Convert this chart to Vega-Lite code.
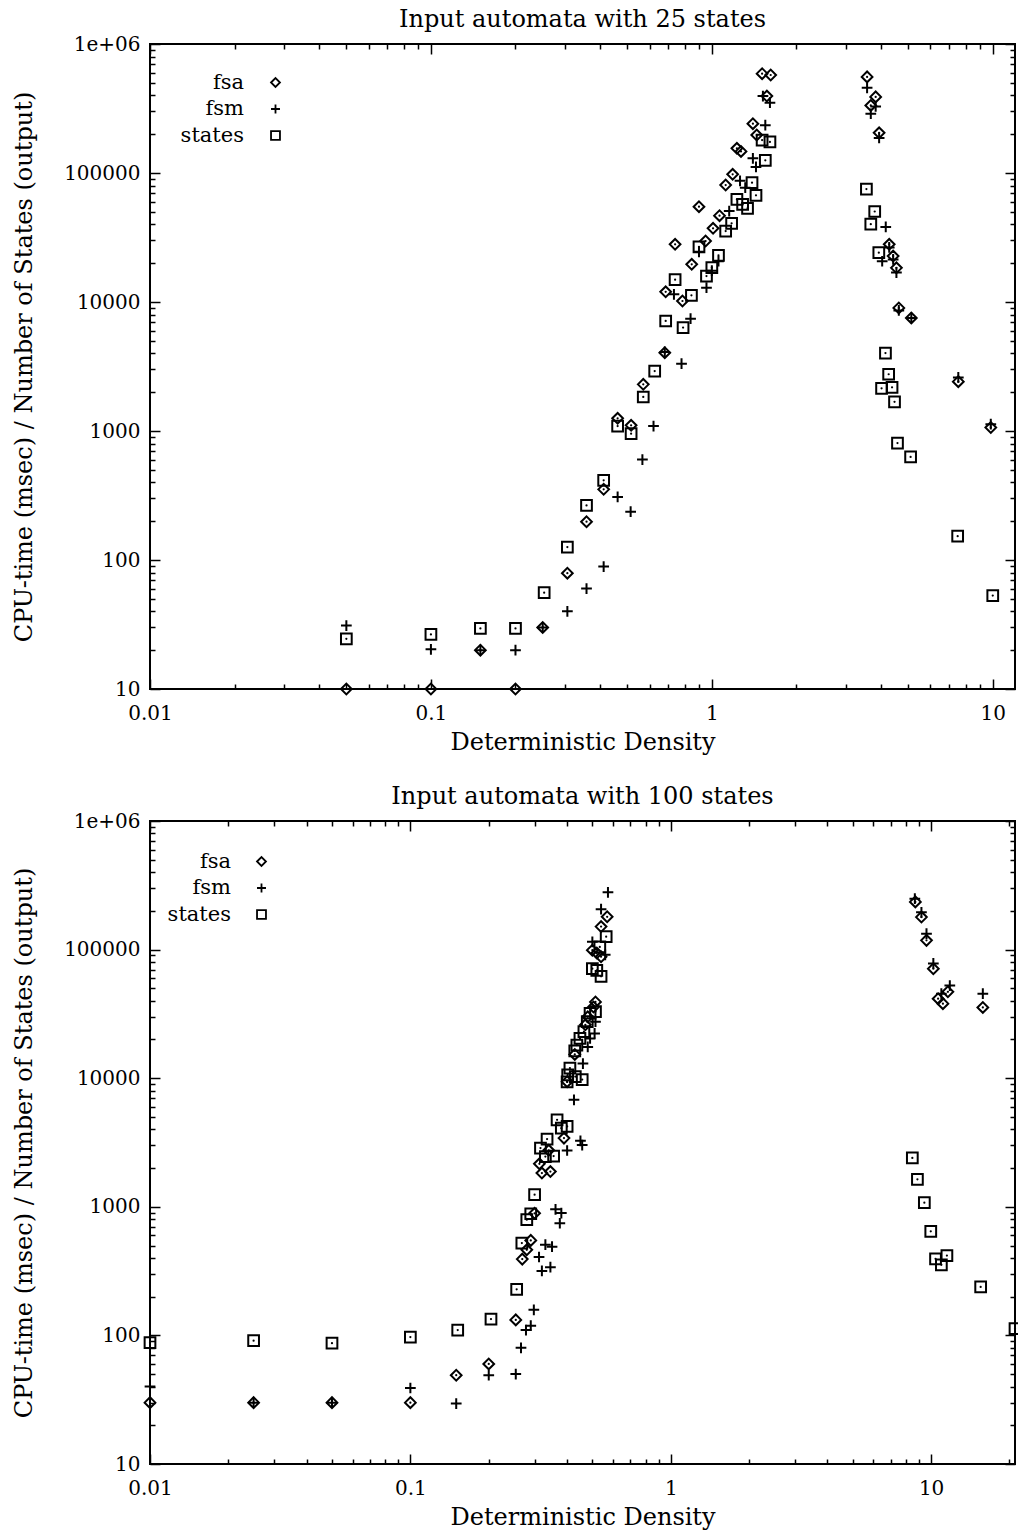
{
  "$schema": "https://vega.github.io/schema/vega-lite/v6.json",
  "background": "white",
  "padding": {"left": 11, "top": 7, "right": 3, "bottom": 0},
  "spacing": 29,
  "resolve": {"scale": {"shape": "independent"}, "legend": {"shape": "independent"}},
  "config": {
    "view": {"stroke": "black", "strokeWidth": 2},
    "font": "DejaVu Serif",
    "axis": {"domain": false, "grid": false, "labelFont": "DejaVu Serif", "labelFontSize": 20, "labelColor": "black", "titleFont": "DejaVu Serif", "titleFontSize": 24, "titleFontWeight": "normal", "titleColor": "black", "tickColor": "black", "tickWidth": 1.5, "labelOverlap": false, "labelFlush": false},
    "title": {"font": "DejaVu Serif", "fontSize": 24, "fontWeight": "normal", "color": "black", "offset": 2},
    "legend": {"labelFont": "DejaVu Serif", "labelFontSize": 21, "labelColor": "black"}
  },
  "datasets": {
    "top": [
      {"series":"fsa","x":0.05,"y":10},{"series":"fsa","x":0.1,"y":10},{"series":"fsa","x":0.15,"y":20},{"series":"fsa","x":0.2,"y":10},{"series":"fsa","x":0.25,"y":30},{"series":"fsa","x":0.306,"y":79},{"series":"fsa","x":0.358,"y":198},{"series":"fsa","x":0.412,"y":353},{"series":"fsa","x":0.462,"y":1254},{"series":"fsa","x":0.516,"y":1107},{"series":"fsa","x":0.57,"y":2300},{"series":"fsa","x":0.68,"y":4045},{"series":"fsa","x":0.685,"y":12000},{"series":"fsa","x":0.786,"y":10180},{"series":"fsa","x":0.74,"y":28000},{"series":"fsa","x":0.848,"y":19600},{"series":"fsa","x":0.95,"y":29700},{"series":"fsa","x":0.9,"y":54800},{"series":"fsa","x":1.01,"y":37260},{"series":"fsa","x":1.065,"y":46700},{"series":"fsa","x":1.12,"y":80700},{"series":"fsa","x":1.186,"y":97700},{"series":"fsa","x":1.228,"y":155400},{"series":"fsa","x":1.27,"y":147000},{"series":"fsa","x":1.445,"y":197000},{"series":"fsa","x":1.4,"y":241000},{"series":"fsa","x":1.57,"y":395000},{"series":"fsa","x":1.51,"y":589000},{"series":"fsa","x":1.62,"y":575000},{"series":"fsa","x":3.57,"y":556000},{"series":"fsa","x":3.83,"y":389000},{"series":"fsa","x":3.68,"y":334000},{"series":"fsa","x":3.94,"y":205000},{"series":"fsa","x":4.28,"y":28000},{"series":"fsa","x":4.42,"y":22700},{"series":"fsa","x":4.54,"y":18400},{"series":"fsa","x":4.63,"y":9000},{"series":"fsa","x":5.13,"y":7520},{"series":"fsa","x":7.54,"y":2413},{"series":"fsa","x":9.84,"y":1065},
      {"series":"fsm","x":0.05,"y":31},{"series":"fsm","x":0.1,"y":20.3},{"series":"fsm","x":0.15,"y":20},{"series":"fsm","x":0.2,"y":20},{"series":"fsm","x":0.25,"y":30},{"series":"fsm","x":0.306,"y":40},{"series":"fsm","x":0.358,"y":60},{"series":"fsm","x":0.412,"y":89},{"series":"fsm","x":0.462,"y":308},{"series":"fsm","x":0.514,"y":237},{"series":"fsm","x":0.566,"y":600},{"series":"fsm","x":0.62,"y":1093},{"series":"fsm","x":0.68,"y":4100},{"series":"fsm","x":0.78,"y":3325},{"series":"fsm","x":0.84,"y":7430},{"series":"fsm","x":0.733,"y":11480},{"series":"fsm","x":0.957,"y":12900},{"series":"fsm","x":1.0,"y":17500},{"series":"fsm","x":1.056,"y":20700},{"series":"fsm","x":0.9,"y":24500},{"series":"fsm","x":1.153,"y":50700},{"series":"fsm","x":1.26,"y":87000},{"series":"fsm","x":1.315,"y":76900},{"series":"fsm","x":1.436,"y":111400},{"series":"fsm","x":1.4,"y":130000},{"series":"fsm","x":1.55,"y":235000},{"series":"fsm","x":1.52,"y":395000},{"series":"fsm","x":1.61,"y":351000},{"series":"fsm","x":3.57,"y":457000},{"series":"fsm","x":3.83,"y":328000},{"series":"fsm","x":3.68,"y":288000},{"series":"fsm","x":3.94,"y":187000},{"series":"fsm","x":4.16,"y":38200},{"series":"fsm","x":4.04,"y":20700},{"series":"fsm","x":4.28,"y":26500},{"series":"fsm","x":4.42,"y":21400},{"series":"fsm","x":4.54,"y":16900},{"series":"fsm","x":4.63,"y":8600},{"series":"fsm","x":5.13,"y":7520},{"series":"fsm","x":7.54,"y":2600},{"series":"fsm","x":9.84,"y":1130},
      {"series":"states","x":0.05,"y":24.5},{"series":"states","x":0.1,"y":26.5},{"series":"states","x":0.15,"y":29.5},{"series":"states","x":0.2,"y":29.5},{"series":"states","x":0.253,"y":55.8},{"series":"states","x":0.306,"y":126},{"series":"states","x":0.358,"y":265},{"series":"states","x":0.412,"y":415},{"series":"states","x":0.462,"y":1093},{"series":"states","x":0.516,"y":953},{"series":"states","x":0.57,"y":1835},{"series":"states","x":0.626,"y":2917},{"series":"states","x":0.685,"y":7125},{"series":"states","x":0.79,"y":6330},{"series":"states","x":0.846,"y":11270},{"series":"states","x":0.74,"y":14900},{"series":"states","x":0.957,"y":15900},{"series":"states","x":1.0,"y":18460},{"series":"states","x":1.056,"y":23000},{"series":"states","x":0.9,"y":26800},{"series":"states","x":1.12,"y":35500},{"series":"states","x":1.176,"y":40700},{"series":"states","x":1.228,"y":62500},{"series":"states","x":1.287,"y":57200},{"series":"states","x":1.34,"y":53200},{"series":"states","x":1.436,"y":67100},{"series":"states","x":1.39,"y":84100},{"series":"states","x":1.55,"y":125400},{"series":"states","x":1.51,"y":180000},{"series":"states","x":1.61,"y":174000},{"series":"states","x":3.55,"y":75000},{"series":"states","x":3.8,"y":50300},{"series":"states","x":3.68,"y":40100},{"series":"states","x":3.93,"y":24100},{"series":"states","x":4.15,"y":4020},{"series":"states","x":4.26,"y":2754},{"series":"states","x":4.02,"y":2143},{"series":"states","x":4.38,"y":2180},{"series":"states","x":4.47,"y":1685},{"series":"states","x":4.58,"y":807},{"series":"states","x":5.1,"y":630},{"series":"states","x":7.5,"y":153},{"series":"states","x":10,"y":53}
    ],
    "bottom": [
      {"series":"fsa","x":0.01,"y":30},{"series":"fsa","x":0.025,"y":30},{"series":"fsa","x":0.05,"y":30},{"series":"fsa","x":0.1,"y":30},{"series":"fsa","x":0.15,"y":49},{"series":"fsa","x":0.2,"y":60},{"series":"fsa","x":0.254,"y":132},{"series":"fsa","x":0.269,"y":392},{"series":"fsa","x":0.28,"y":463},{"series":"fsa","x":0.29,"y":548},{"series":"fsa","x":0.3,"y":890},{"series":"fsa","x":0.313,"y":2160},{"series":"fsa","x":0.32,"y":1830},{"series":"fsa","x":0.345,"y":1880},{"series":"fsa","x":0.34,"y":2750},{"series":"fsa","x":0.389,"y":3420},{"series":"fsa","x":0.4,"y":9400},{"series":"fsa","x":0.428,"y":15300},{"series":"fsa","x":0.47,"y":26000},{"series":"fsa","x":0.48,"y":30000},{"series":"fsa","x":0.505,"y":35800},{"series":"fsa","x":0.514,"y":39200},{"series":"fsa","x":0.5,"y":99000},{"series":"fsa","x":0.52,"y":94000},{"series":"fsa","x":0.54,"y":88000},{"series":"fsa","x":0.54,"y":151000},{"series":"fsa","x":0.57,"y":180000},{"series":"fsa","x":8.7,"y":235000},{"series":"fsa","x":9.18,"y":179000},{"series":"fsa","x":9.6,"y":118000},{"series":"fsa","x":10.2,"y":71000},{"series":"fsa","x":10.64,"y":41500},{"series":"fsa","x":11.1,"y":38000},{"series":"fsa","x":11.6,"y":47000},{"series":"fsa","x":15.8,"y":35500},
      {"series":"fsm","x":0.01,"y":40},{"series":"fsm","x":0.025,"y":30},{"series":"fsm","x":0.05,"y":30},{"series":"fsm","x":0.1,"y":39},{"series":"fsm","x":0.15,"y":29.5},{"series":"fsm","x":0.2,"y":49},{"series":"fsm","x":0.254,"y":50},{"series":"fsm","x":0.266,"y":80},{"series":"fsm","x":0.278,"y":110},{"series":"fsm","x":0.29,"y":119},{"series":"fsm","x":0.298,"y":158},{"series":"fsm","x":0.312,"y":407},{"series":"fsm","x":0.32,"y":317},{"series":"fsm","x":0.33,"y":507},{"series":"fsm","x":0.345,"y":339},{"series":"fsm","x":0.35,"y":490},{"series":"fsm","x":0.361,"y":955},{"series":"fsm","x":0.375,"y":745},{"series":"fsm","x":0.38,"y":893},{"series":"fsm","x":0.4,"y":2740},{"series":"fsm","x":0.45,"y":3260},{"series":"fsm","x":0.457,"y":3020},{"series":"fsm","x":0.425,"y":6790},{"series":"fsm","x":0.46,"y":13000},{"series":"fsm","x":0.48,"y":17500},{"series":"fsm","x":0.49,"y":20400},{"series":"fsm","x":0.51,"y":22300},{"series":"fsm","x":0.514,"y":27500},{"series":"fsm","x":0.5,"y":115000},{"series":"fsm","x":0.56,"y":91000},{"series":"fsm","x":0.54,"y":206000},{"series":"fsm","x":0.574,"y":279000},{"series":"fsm","x":8.66,"y":249000},{"series":"fsm","x":9.18,"y":195000},{"series":"fsm","x":9.6,"y":133000},{"series":"fsm","x":10.2,"y":78000},{"series":"fsm","x":10.95,"y":45400},{"series":"fsm","x":11.8,"y":52500},{"series":"fsm","x":15.8,"y":45400},
      {"series":"states","x":0.01,"y":88},{"series":"states","x":0.025,"y":91},{"series":"states","x":0.05,"y":87},{"series":"states","x":0.1,"y":97},{"series":"states","x":0.152,"y":110},{"series":"states","x":0.204,"y":134},{"series":"states","x":0.256,"y":228},{"series":"states","x":0.268,"y":522},{"series":"states","x":0.28,"y":794},{"series":"states","x":0.29,"y":883},{"series":"states","x":0.3,"y":1242},{"series":"states","x":0.316,"y":2860},{"series":"states","x":0.335,"y":3360},{"series":"states","x":0.33,"y":2460},{"series":"states","x":0.355,"y":2480},{"series":"states","x":0.366,"y":4750},{"series":"states","x":0.38,"y":4090},{"series":"states","x":0.4,"y":4220},{"series":"states","x":0.4,"y":9350},{"series":"states","x":0.457,"y":9750},{"series":"states","x":0.41,"y":12000},{"series":"states","x":0.402,"y":10600},{"series":"states","x":0.43,"y":10300},{"series":"states","x":0.428,"y":16300},{"series":"states","x":0.436,"y":18100},{"series":"states","x":0.448,"y":20400},{"series":"states","x":0.464,"y":23000},{"series":"states","x":0.478,"y":27500},{"series":"states","x":0.49,"y":32000},{"series":"states","x":0.514,"y":33000},{"series":"states","x":0.534,"y":105000},{"series":"states","x":0.565,"y":126000},{"series":"states","x":0.5,"y":71000},{"series":"states","x":0.52,"y":69000},{"series":"states","x":0.54,"y":62000},{"series":"states","x":8.47,"y":2400},{"series":"states","x":8.86,"y":1637},{"series":"states","x":9.42,"y":1077},{"series":"states","x":9.97,"y":645},{"series":"states","x":10.4,"y":394},{"series":"states","x":10.95,"y":354},{"series":"states","x":11.5,"y":418},{"series":"states","x":15.5,"y":238},{"series":"states","x":21,"y":113}
    ]
  },
  "vconcat": [
    {
      "width": 865, "height": 645,
      "title": {"text": "Input automata with 25 states"},
      "data": {"name": "top"},
      "layer": [
        {
          "mark": {"type": "point", "filled": false, "color": "black", "strokeWidth": 2, "size": 115, "opacity": 1},
          "encoding": {
            "x": {"field": "x", "type": "quantitative", "scale": {"type": "log", "domain": [0.01, 12], "nice": false},
              "axis": {"title": "Deterministic Density", "values": [0.01,0.02,0.03,0.04,0.05,0.06,0.07,0.08,0.09,0.1,0.2,0.3,0.4,0.5,0.6,0.7,0.8,0.9,1,2,3,4,5,6,7,8,9,10],
                "labelExpr": "abs(log(datum.value)/LN10 - round(log(datum.value)/LN10)) < 0.001 ? format(datum.value, '~g') : ''",
                "tickSize": {"condition": {"test": "abs(log(datum.value)/LN10 - round(log(datum.value)/LN10)) < 0.001", "value": -10}, "value": -5},
                "labelPadding": 24, "titlePadding": 2}},
            "y": {"field": "y", "type": "quantitative", "scale": {"type": "log", "domain": [10, 1000000], "nice": false},
              "axis": {"title": "CPU-time (msec) / Number of States (output)", "values": [10,20,30,40,50,60,70,80,90,100,200,300,400,500,600,700,800,900,1000,2000,3000,4000,5000,6000,7000,8000,9000,10000,20000,30000,40000,50000,60000,70000,80000,90000,100000,200000,300000,400000,500000,600000,700000,800000,900000,1000000],
                "labelExpr": "abs(log(datum.value)/LN10 - round(log(datum.value)/LN10)) < 0.001 ? (datum.value >= 999999 ? '1e+06' : format(datum.value, 'd')) : ''",
                "tickSize": {"condition": {"test": "abs(log(datum.value)/LN10 - round(log(datum.value)/LN10)) < 0.001", "value": -10}, "value": -5},
                "labelPadding": 20, "titlePadding": 27}},
            "shape": {"field": "series", "type": "nominal", "scale": {"domain": ["fsa", "fsm", "states"], "range": ["diamond", "M-1,0L1,0M0,-1L0,1", "square"]},
              "legend": {"title": null, "orient": "none", "legendX": 115, "legendY": 28, "labelAlign": "right", "labelOffset": -42, "padding": 0, "rowPadding": 4.5, "symbolStrokeColor": "black", "symbolStrokeWidth": 1.8, "symbolSize": 80}}
          }
        },
        {
          "transform": [{"filter": "datum.series != 'fsm'"}],
          "mark": {"type": "point", "shape": "circle", "filled": true, "color": "black", "size": 5, "opacity": 1},
          "encoding": {
            "x": {"field": "x", "type": "quantitative",
              "axis": {"orient": "top", "title": null, "labels": false, "values": [0.01,0.02,0.03,0.04,0.05,0.06,0.07,0.08,0.09,0.1,0.2,0.3,0.4,0.5,0.6,0.7,0.8,0.9,1,2,3,4,5,6,7,8,9,10],
                "tickSize": {"condition": {"test": "abs(log(datum.value)/LN10 - round(log(datum.value)/LN10)) < 0.001", "value": -10}, "value": -5}}},
            "y": {"field": "y", "type": "quantitative",
              "axis": {"orient": "right", "title": null, "labels": false, "values": [10,20,30,40,50,60,70,80,90,100,200,300,400,500,600,700,800,900,1000,2000,3000,4000,5000,6000,7000,8000,9000,10000,20000,30000,40000,50000,60000,70000,80000,90000,100000,200000,300000,400000,500000,600000,700000,800000,900000,1000000],
                "tickSize": {"condition": {"test": "abs(log(datum.value)/LN10 - round(log(datum.value)/LN10)) < 0.001", "value": -10}, "value": -5}}}
          }
        }
      ],
      "resolve": {"axis": {"x": "independent", "y": "independent"}}
    },
    {
      "width": 865, "height": 643,
      "title": {"text": "Input automata with 100 states"},
      "data": {"name": "bottom"},
      "layer": [
        {
          "mark": {"type": "point", "filled": false, "color": "black", "strokeWidth": 2, "size": 115, "opacity": 1},
          "encoding": {
            "x": {"field": "x", "type": "quantitative", "scale": {"type": "log", "domain": [0.01, 21], "nice": false},
              "axis": {"title": "Deterministic Density", "values": [0.01,0.02,0.03,0.04,0.05,0.06,0.07,0.08,0.09,0.1,0.2,0.3,0.4,0.5,0.6,0.7,0.8,0.9,1,2,3,4,5,6,7,8,9,10,20],
                "labelExpr": "abs(log(datum.value)/LN10 - round(log(datum.value)/LN10)) < 0.001 ? format(datum.value, '~g') : ''",
                "tickSize": {"condition": {"test": "abs(log(datum.value)/LN10 - round(log(datum.value)/LN10)) < 0.001", "value": -10}, "value": -5},
                "labelPadding": 24, "titlePadding": 2}},
            "y": {"field": "y", "type": "quantitative", "scale": {"type": "log", "domain": [10, 1000000], "nice": false},
              "axis": {"title": "CPU-time (msec) / Number of States (output)", "values": [10,20,30,40,50,60,70,80,90,100,200,300,400,500,600,700,800,900,1000,2000,3000,4000,5000,6000,7000,8000,9000,10000,20000,30000,40000,50000,60000,70000,80000,90000,100000,200000,300000,400000,500000,600000,700000,800000,900000,1000000],
                "labelExpr": "abs(log(datum.value)/LN10 - round(log(datum.value)/LN10)) < 0.001 ? (datum.value >= 999999 ? '1e+06' : format(datum.value, 'd')) : ''",
                "tickSize": {"condition": {"test": "abs(log(datum.value)/LN10 - round(log(datum.value)/LN10)) < 0.001", "value": -10}, "value": -5},
                "labelPadding": 20, "titlePadding": 27}},
            "shape": {"field": "series", "type": "nominal", "scale": {"domain": ["fsa", "fsm", "states"], "range": ["diamond", "M-1,0L1,0M0,-1L0,1", "square"]},
              "legend": {"title": null, "orient": "none", "legendX": 101, "legendY": 30, "labelAlign": "right", "labelOffset": -41, "padding": 0, "rowPadding": 4.5, "symbolStrokeColor": "black", "symbolStrokeWidth": 1.8, "symbolSize": 80}}
          }
        },
        {
          "transform": [{"filter": "datum.series != 'fsm'"}],
          "mark": {"type": "point", "shape": "circle", "filled": true, "color": "black", "size": 5, "opacity": 1},
          "encoding": {
            "x": {"field": "x", "type": "quantitative",
              "axis": {"orient": "top", "title": null, "labels": false, "values": [0.01,0.02,0.03,0.04,0.05,0.06,0.07,0.08,0.09,0.1,0.2,0.3,0.4,0.5,0.6,0.7,0.8,0.9,1,2,3,4,5,6,7,8,9,10,20],
                "tickSize": {"condition": {"test": "abs(log(datum.value)/LN10 - round(log(datum.value)/LN10)) < 0.001", "value": -10}, "value": -5}}},
            "y": {"field": "y", "type": "quantitative",
              "axis": {"orient": "right", "title": null, "labels": false, "values": [10,20,30,40,50,60,70,80,90,100,200,300,400,500,600,700,800,900,1000,2000,3000,4000,5000,6000,7000,8000,9000,10000,20000,30000,40000,50000,60000,70000,80000,90000,100000,200000,300000,400000,500000,600000,700000,800000,900000,1000000],
                "tickSize": {"condition": {"test": "abs(log(datum.value)/LN10 - round(log(datum.value)/LN10)) < 0.001", "value": -10}, "value": -5}}}
          }
        }
      ],
      "resolve": {"axis": {"x": "independent", "y": "independent"}}
    }
  ]
}
